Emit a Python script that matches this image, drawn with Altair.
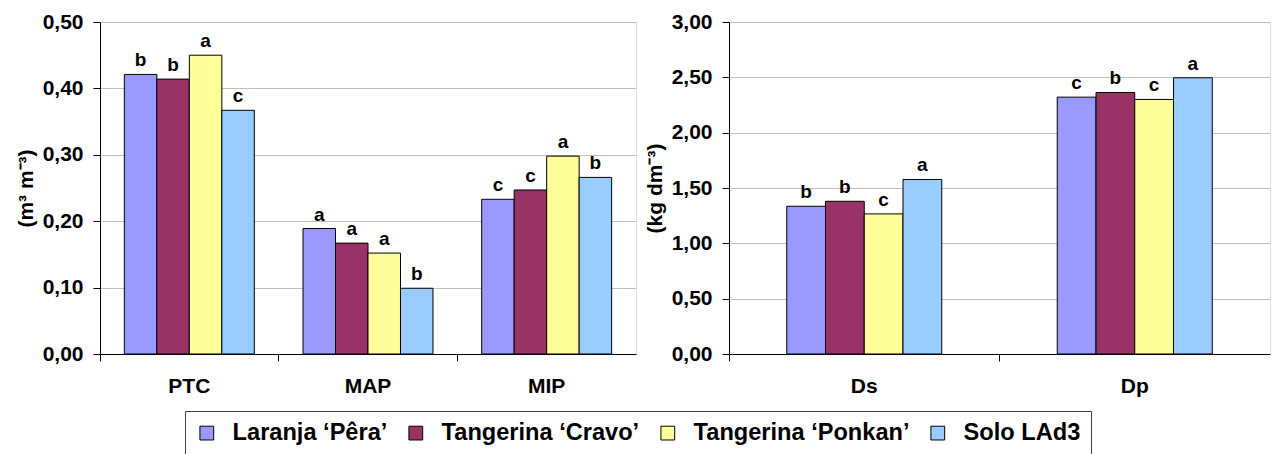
import altair as alt
import pandas as pd

FONT = "Liberation Sans"

series = ["Laranja ‘Pêra’", "Tangerina ‘Cravo’", "Tangerina ‘Ponkan’", "Solo LAd3"]
colors = ["#9999FF", "#993366", "#FFFF99", "#99CCFF"]

left_cats = ["PTC", "MAP", "MIP"]
ptc_vals = [0.421, 0.414, 0.450, 0.367]
map_vals = [0.189, 0.167, 0.152, 0.099]
mip_vals = [0.233, 0.247, 0.298, 0.266]
ptc_letters = ["b", "b", "a", "c"]
map_letters = ["a", "a", "a", "b"]
mip_letters = ["c", "c", "a", "b"]

right_cats = ["Ds", "Dp"]
ds_vals = [1.335, 1.380, 1.266, 1.577]
dp_vals = [2.321, 2.363, 2.300, 2.496]
ds_letters = ["b", "b", "c", "a"]
dp_letters = ["c", "b", "c", "a"]

left_ticks = [0.0, 0.1, 0.2, 0.3, 0.4, 0.5]
right_ticks = [0.0, 0.5, 1.0, 1.5, 2.0, 2.5, 3.0]


def make_df(cats, vals_list, letters_list):
    rows = []
    for c, vals, lets in zip(cats, vals_list, letters_list):
        for s, v, l in zip(series, vals, lets):
            rows.append({"cat": c, "series": s, "value": v, "letter": l})
    return pd.DataFrame(rows)


left_df = make_df(left_cats, [ptc_vals, map_vals, mip_vals], [ptc_letters, map_letters, mip_letters])
right_df = make_df(right_cats, [ds_vals, dp_vals], [ds_letters, dp_letters])

legend = alt.Legend(
    title=None, orient="none", legendX=85, legendY=389, direction="horizontal",
    columns=4, strokeColor="#404040", padding=10, symbolType="square", symbolSize=190,
    symbolStrokeColor="black", symbolStrokeWidth=1, labelFontSize=23.6, labelFont=FONT,
    labelFontWeight="bold", labelColor="black", labelOffset=14, columnPadding=16,
    labelLimit=400,
)


def panel(df, cats, ymax, ticks, title, width, xo_scale):
    x = alt.X("cat:N", sort=cats, title=None,
              scale=alt.Scale(paddingInner=0, paddingOuter=0),
              axis=alt.Axis(labelAngle=0, bandPosition=0, ticks=True, tickSize=7,
                            tickColor="black", domainColor="black", labelFontSize=21,
                            labelFont=FONT, labelFontWeight="bold", labelPadding=14,
                            grid=False, labelColor="black"))
    xo = alt.XOffset("series:N", sort=series, scale=xo_scale)
    y = alt.Y("value:Q", title=title,
              scale=alt.Scale(domain=[0, ymax], nice=False, zero=True),
              axis=alt.Axis(values=ticks,
                            labelExpr="replace(format(datum.value, '.2f'), '.', ',')",
                            tickSize=7, tickColor="black", domainColor="black",
                            labelFontSize=21, labelFont=FONT, labelFontWeight="bold",
                            labelColor="black", labelPadding=10, gridColor="#C0C0C0",
                            titleFont=FONT, titleFontSize=21, titleFontWeight="bold",
                            titleColor="black", titlePadding=6))
    color = alt.Color("series:N", sort=series,
                      scale=alt.Scale(domain=series, range=colors), legend=legend)
    bars = alt.Chart(df).mark_bar(stroke="black", strokeWidth=1).encode(
        x=x, xOffset=xo, y=y, color=color)
    text = alt.Chart(df).mark_text(dy=-8, baseline="alphabetic", fontSize=19,
                                   font=FONT, fontWeight="bold", color="black").encode(
        x=x, xOffset=xo, y=y, text="letter:N")
    return alt.layer(bars, text).properties(width=width, height=332)


left = panel(left_df, left_cats, 0.5, left_ticks, "(m³ m⁻³)", 536,
             alt.Scale(paddingInner=0, paddingOuter=0.749))
right = panel(right_df, right_cats, 3.0, right_ticks, "(kg dm⁻³)", 541,
              alt.Scale(paddingInner=0, paddingOuter=0, range=[57.75, 212.75]))

chart = alt.hconcat(left, right, spacing=6).resolve_scale(
    xOffset="independent"
).properties(
    padding={"left": 14, "top": 10, "right": 0, "bottom": 0}
).configure_view(stroke="#A0A0A0", strokeWidth=1).configure(background="white")

chart.save("out.html", embed_options={"renderer": "svg", "actions": False})
